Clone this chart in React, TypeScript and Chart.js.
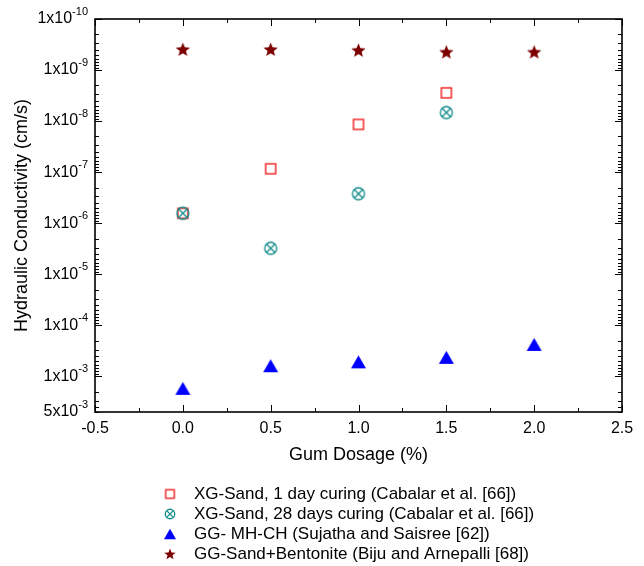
import React, { useEffect, useRef } from 'react';
import { Chart, registerables } from 'chart.js';

Chart.register(...registerables);

// ---- data ----
const dosageXG = [0, 0.5, 1.0, 1.5];
const dosageGG = [0, 0.5, 1.0, 1.5, 2.0];
const xgSand1Day = [6.4e-7, 8.6e-8, 1.16e-8, 2.8e-9];
const xgSand28Day = [6.4e-7, 3.1e-6, 2.65e-7, 6.8e-9];
const ggMhCh = [1.72e-3, 6.2e-4, 5.2e-4, 4.25e-4, 2.37e-4];
const ggSandBentonite = [3.95e-10, 3.95e-10, 4.1e-10, 4.45e-10, 4.45e-10];

const seriesLabels = [
  'XG-Sand, 1 day curing (Cabalar et al. [66])',
  'XG-Sand, 28 days curing (Cabalar et al. [66])',
  'GG- MH-CH (Sujatha and Saisree [62])',
  'GG-Sand+Bentonite (Biju and Arnepalli [68])',
];

const xMin = -0.5;
const xMax = 2.5;
const xStep = 0.5;
const yMin = 1e-10;
const yMax = 5e-3;
const yTickValues = [1e-10, 1e-9, 1e-8, 1e-7, 1e-6, 1e-5, 1e-4, 1e-3, 5e-3];
const yTickMantissa = ['1', '1', '1', '1', '1', '1', '1', '1', '5'];
const yTickExponent = ['-10', '-9', '-8', '-7', '-6', '-5', '-4', '-3', '-3'];

const FONT = '"Liberation Sans", Arial, Helvetica, sans-serif';

const RED = '#f21c1c';
const TEAL = '#138a8a';
const BLUE = '#0000ff';
const MAROON = '#7d0000';

function mk(size: number, draw: (c: CanvasRenderingContext2D, s: number) => void) {
  const cv = document.createElement('canvas');
  cv.width = size;
  cv.height = size;
  const c = cv.getContext('2d')!;
  draw(c, size);
  return cv;
}

function squareMarker(side: number) {
  return mk(Math.ceil(side) + 4, (c, s) => {
    c.strokeStyle = RED;
    c.lineWidth = 1.4;
    c.strokeRect(s / 2 - side / 2, s / 2 - side / 2, side, side);
  });
}
function circleXMarker(d: number) {
  return mk(Math.ceil(d) + 4, (c, s) => {
    const r = d / 2;
    c.strokeStyle = TEAL;
    c.lineWidth = 1.3;
    c.beginPath();
    c.arc(s / 2, s / 2, r, 0, Math.PI * 2);
    c.stroke();
    const k = r * Math.SQRT1_2;
    c.beginPath();
    c.moveTo(s / 2 - k, s / 2 - k);
    c.lineTo(s / 2 + k, s / 2 + k);
    c.moveTo(s / 2 + k, s / 2 - k);
    c.lineTo(s / 2 - k, s / 2 + k);
    c.stroke();
  });
}
function triangleMarker(w: number, h: number) {
  return mk(Math.ceil(Math.max(w, h)) + 2, (c, s) => {
    c.fillStyle = BLUE;
    c.beginPath();
    c.moveTo(s / 2, s / 2 - h / 2);
    c.lineTo(s / 2 + w / 2, s / 2 + h / 2);
    c.lineTo(s / 2 - w / 2, s / 2 + h / 2);
    c.closePath();
    c.fill();
  });
}
function starMarker(R: number, ri: number) {
  return mk(Math.ceil(2 * R) + 2, (c, s) => {
    c.fillStyle = MAROON;
    c.beginPath();
    for (let i = 0; i < 10; i++) {
      const rr = i % 2 === 0 ? R : ri;
      const a = -Math.PI / 2 + (i * Math.PI) / 5;
      const px = s / 2 + rr * Math.cos(a);
      const py = s / 2 + 0.5 + rr * Math.sin(a);
      if (i === 0) c.moveTo(px, py);
      else c.lineTo(px, py);
    }
    c.closePath();
    c.fill();
  });
}

export default function App() {
  const ref = useRef<HTMLCanvasElement>(null);

  useEffect(() => {
    if (!ref.current) return;
    const plotMarkers = [squareMarker(10), circleXMarker(12), triangleMarker(15, 13), starMarker(7.5, 3.3)];
    const legendMarkers = [squareMarker(8.5), circleXMarker(9.5), triangleMarker(12, 10.5), starMarker(6, 2.6)];

    const framePlugin = {
      id: 'frame',
      beforeDatasetsDraw(chart: any) {
        const { ctx, chartArea } = chart;
        const { left, right, top, bottom } = chartArea;
        const xs = chart.scales.x;
        const ys = chart.scales.y;
        ctx.save();
        ctx.strokeStyle = '#000';
        ctx.lineWidth = 1;
        ctx.beginPath();
        // x ticks (major + minor), bottom & top, inward
        for (let v = xMin; v <= xMax + 1e-9; v += xStep / 2) {
          const px = Math.round(xs.getPixelForValue(v)) + 0.5;
          const major = Math.abs(v / xStep - Math.round(v / xStep)) < 1e-6;
          const len = major ? 7 : 4;
          ctx.moveTo(px, bottom);
          ctx.lineTo(px, bottom - len);
          ctx.moveTo(px, top);
          ctx.lineTo(px, top + len);
        }
        // y ticks, left & right, inward
        for (let k = -10; k <= -3; k++) {
          for (let m = 1; m <= 9; m++) {
            const v = m * Math.pow(10, k);
            if (v < yMin * 0.999 || v > yMax * 1.001) continue;
            const py = Math.round(ys.getPixelForValue(v)) + 0.5;
            const major = m === 1;
            const len = major ? 7 : 4;
            ctx.moveTo(left, py);
            ctx.lineTo(left + len, py);
            ctx.moveTo(right, py);
            ctx.lineTo(right - len, py);
          }
        }
        ctx.stroke();
        ctx.lineWidth = 1.6;
        ctx.strokeRect(left, top, right - left, bottom - top);
        ctx.restore();
      },
      afterDraw(chart: any) {
        const { ctx, chartArea } = chart;
        const ys = chart.scales.y;
        ctx.save();
        ctx.fillStyle = '#000';
        ctx.textBaseline = 'middle';
        // y tick labels with superscript exponents
        const xr = chartArea.left - 7;
        yTickValues.forEach((v, i) => {
          const py = ys.getPixelForValue(v);
          ctx.font = `11px ${FONT}`;
          ctx.textAlign = 'right';
          const ew = ctx.measureText(yTickExponent[i]).width;
          ctx.fillText(yTickExponent[i], xr, py - 7);
          ctx.font = `16px ${FONT}`;
          ctx.fillText(`${yTickMantissa[i]}x10`, xr - ew, py);
        });
        // legend
        const rows = [494, 514, 534, 554];
        ctx.textAlign = 'left';
        ctx.font = `17px ${FONT}`;
        seriesLabels.forEach((lab, i) => {
          const m = legendMarkers[i];
          ctx.drawImage(m, 170 - m.width / 2, rows[i] - m.height / 2);
          ctx.fillText(lab, 194, rows[i]);
        });
        ctx.restore();
      },
    };

    const chart = new Chart(ref.current, {
      type: 'scatter',
      data: {
        datasets: [
          {
            label: seriesLabels[0],
            data: dosageXG.map((x, i) => ({ x, y: xgSand1Day[i] })),
            pointStyle: plotMarkers[0] as any,
            order: 2,
          },
          {
            label: seriesLabels[1],
            data: dosageXG.map((x, i) => ({ x, y: xgSand28Day[i] })),
            pointStyle: plotMarkers[1] as any,
            order: 1,
          },
          {
            label: seriesLabels[2],
            data: dosageGG.map((x, i) => ({ x, y: ggMhCh[i] })),
            pointStyle: plotMarkers[2] as any,
            order: 3,
          },
          {
            label: seriesLabels[3],
            data: dosageGG.map((x, i) => ({ x, y: ggSandBentonite[i] })),
            pointStyle: plotMarkers[3] as any,
            order: 4,
          },
        ],
      },
      options: {
        animation: false,
        responsive: false,
        maintainAspectRatio: false,
        devicePixelRatio: 1,
        events: [],
        layout: { padding: { top: 19, right: 22, left: 0, bottom: 0 } },
        plugins: { legend: { display: false }, tooltip: { enabled: false } },
        scales: {
          x: {
            type: 'linear',
            min: xMin,
            max: xMax,
            grid: { display: false, drawTicks: false },
            border: { display: false },
            ticks: {
              stepSize: xStep,
              color: '#000',
              padding: 7,
              font: { family: FONT, size: 16 },
              callback: (v: any) => Number(v).toFixed(1),
            },
            title: {
              display: true,
              text: 'Gum Dosage (%)',
              color: '#000',
              font: { family: FONT, size: 18 },
              padding: { top: 0, bottom: 100 },
            },
            afterFit: (s: any) => {
              s.height = 154;
            },
          },
          y: {
            type: 'logarithmic',
            min: yMin,
            max: yMax,
            reverse: true,
            grid: { display: false, drawTicks: false },
            border: { display: false },
            ticks: { display: false },
            title: {
              display: true,
              text: 'Hydraulic Conductivity (cm/s)',
              color: '#000',
              font: { family: FONT, size: 18 },
              padding: { top: 11, bottom: 0 },
            },
            afterFit: (s: any) => {
              s.width = 95;
            },
          },
        },
      },
      plugins: [framePlugin],
    } as any);
    return () => chart.destroy();
  }, []);

  return (
    <div style={{ position: 'absolute', left: 0, top: 0, width: 644, height: 566, background: '#fff' }}>
      <canvas ref={ref} width={644} height={566} style={{ display: 'block' }} />
    </div>
  );
}
